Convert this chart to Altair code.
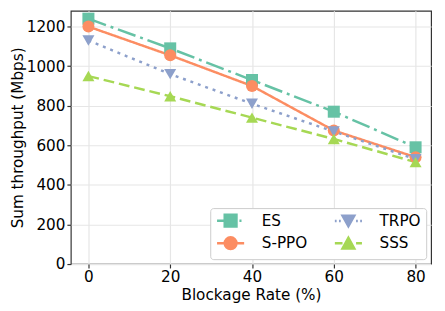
import altair as alt
import pandas as pd

blockage = [0, 20, 40, 60, 80]
methods = ["ES", "S-PPO", "TRPO", "SSS"]
es = [1240, 1090, 930, 770, 590]
sppo = [1200, 1055, 900, 675, 540]
trpo = [1130, 960, 810, 670, 530]
sss = [950, 848, 740, 632, 515]
colors = ["#66c2a5", "#fc8d62", "#8da0cb", "#a6d854"]
dashes = [[19, 5, 3, 5], [1, 0], [3, 5], [11, 5]]
shapes = ["square", "circle", "triangle-down", "triangle-up"]
legend_shapes = [
    "M-2.3,0H-1M1.5,0H1.85M-1,-1H1V1H-1Z",
    "M-2.3,0H-1M1,0H2.3M1,0A1,1,0,1,1,-1,0A1,1,0,1,1,1,0Z",
    "M-2.3,0H-2.0M-1.6,0H-1.3M1.3,0H1.6M2.0,0H2.3M-1,-0.9H1L0,0.9Z",
    "M-2.3,0H-1M1.3,0H2.3M-1,0.9H1L0,-0.9Z",
]

rows = []
for m, vals in zip(methods, [es, sppo, trpo, sss]):
    for b, v in zip(blockage, vals):
        rows.append({"method": m, "blockage": b, "value": v})
df = pd.DataFrame(rows)

FONT = "DejaVu Sans"

x = alt.X("blockage:Q", scale=alt.Scale(domain=[-4.3, 83.8], nice=False, zero=False),
          axis=alt.Axis(values=blockage, title="Blockage Rate (%)", format="d"))
y = alt.Y("value:Q", scale=alt.Scale(domain=[0, 1280], nice=False),
          axis=alt.Axis(values=[0, 200, 400, 600, 800, 1000, 1200], title="Sum throughput (Mbps)", format="d"))

base = alt.Chart(df)
cscale = alt.Scale(domain=methods, range=colors)

lines = base.mark_line(strokeWidth=2.5).encode(
    x=x, y=y,
    color=alt.Color("method:N", scale=cscale, legend=None),
    strokeDash=alt.StrokeDash("method:N", scale=alt.Scale(domain=methods, range=dashes), legend=None),
)

points = base.mark_point(filled=True, size=150, opacity=1).encode(
    x=x, y=y,
    color=alt.Color("method:N", scale=cscale, legend=None),
    shape=alt.Shape("method:N", scale=alt.Scale(domain=methods, range=shapes), legend=None),
)

leg = alt.Legend(
    title=None, orient="bottom-right", columns=2, offset=5,
    labelFont=FONT, labelFontSize=15.5, labelColor="black",
    symbolStrokeWidth=2.5, symbolOpacity=1, symbolSize=144,
    fillColor="white", strokeColor="#cccccc", cornerRadius=3, padding=5,
    labelOffset=24, symbolOffset=8, columnPadding=22, rowPadding=0,
)

legend_layer = base.transform_filter("datum.value < 0").mark_point(
    filled=True, size=144, strokeWidth=2.5, opacity=1
).encode(
    x=x, y=y,
    fill=alt.Fill("method:N", scale=alt.Scale(domain=methods, range=colors), legend=leg),
    stroke=alt.Stroke("method:N", scale=alt.Scale(domain=methods, range=colors), legend=leg),
    shape=alt.Shape("method:N", scale=alt.Scale(domain=methods, range=legend_shapes), legend=leg),
)

chart = alt.layer(lines, points, legend_layer).resolve_scale(
    shape="independent", fill="independent", stroke="independent"
).properties(
    width=367, height=258,
    autosize=alt.AutoSizeParams(type="none"),
    padding={"left": 64, "top": 0, "right": 6, "bottom": 45},
).configure_view(
    stroke="#333333", strokeWidth=1.2
).configure_axis(
    labelFont=FONT, labelFontSize=15.5, labelColor="black",
    titleFont=FONT, titleFontSize=15.5, titleColor="black", titleFontWeight="normal",
    domain=False, tickColor="#333333", tickSize=4, tickWidth=1.2,
    grid=True, gridColor="#e6e6e6", gridWidth=1.2, labelPadding=2,
).configure_axisY(titlePadding=1).configure_axisX(titlePadding=3)

chart.save("out.html", embed_options={"renderer": "svg", "actions": False})
